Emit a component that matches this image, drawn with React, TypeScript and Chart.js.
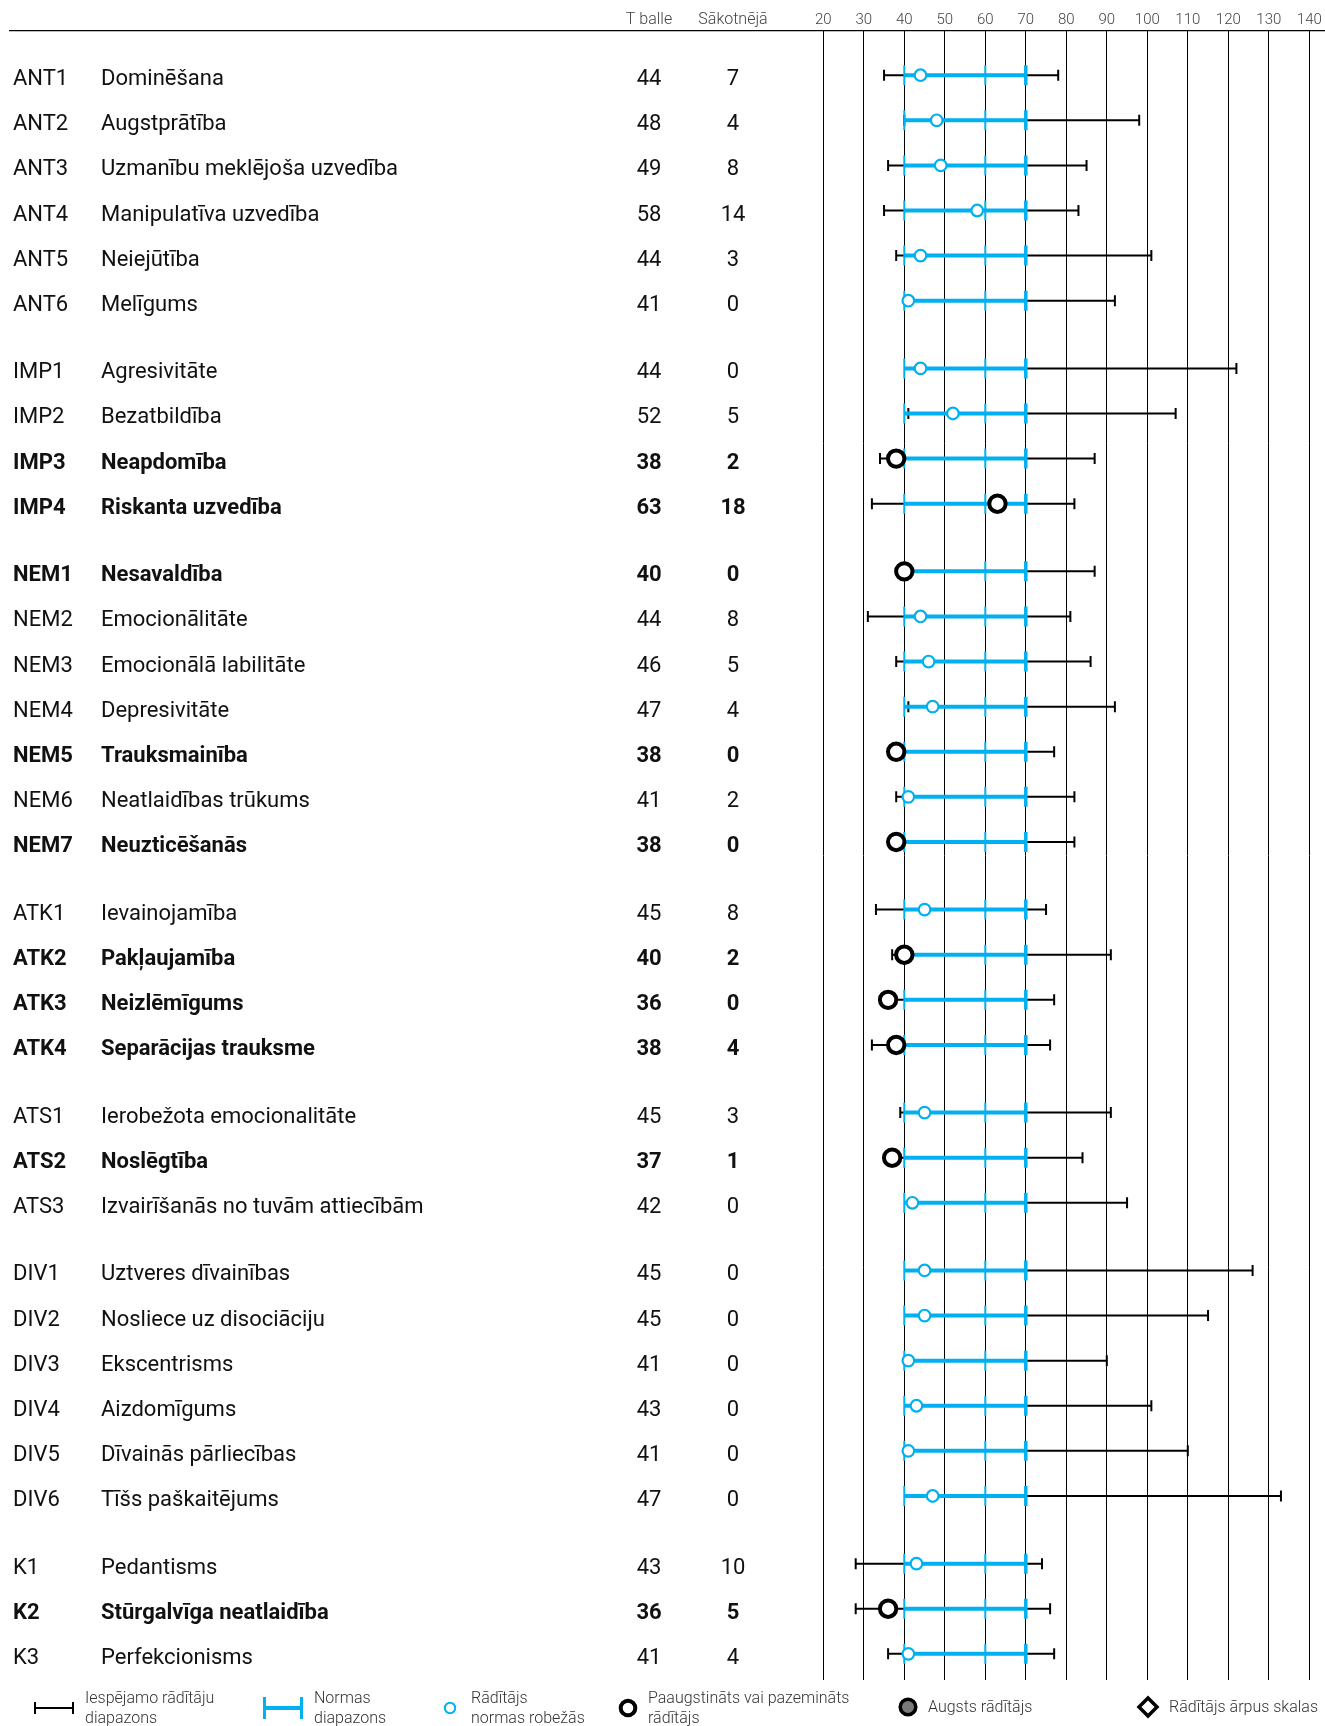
import React, { useEffect, useRef } from "react";
import { Chart, registerables } from "chart.js";

Chart.register(...registerables);

// ---------- data ----------
const codes = ["ANT1","ANT2","ANT3","ANT4","ANT5","ANT6","IMP1","IMP2","IMP3","IMP4","NEM1","NEM2","NEM3","NEM4","NEM5","NEM6","NEM7","ATK1","ATK2","ATK3","ATK4","ATS1","ATS2","ATS3","DIV1","DIV2","DIV3","DIV4","DIV5","DIV6","K1","K2","K3"];
const names = ["Dominēšana","Augstprātība","Uzmanību meklējoša uzvedība","Manipulatīva uzvedība","Neiejūtība","Melīgums","Agresivitāte","Bezatbildība","Neapdomība","Riskanta uzvedība","Nesavaldība","Emocionālitāte","Emocionālā labilitāte","Depresivitāte","Trauksmainība","Neatlaidības trūkums","Neuzticēšanās","Ievainojamība","Pakļaujamība","Neizlēmīgums","Separācijas trauksme","Ierobežota emocionalitāte","Noslēgtība","Izvairīšanās no tuvām attiecībām","Uztveres dīvainības","Nosliece uz disociāciju","Ekscentrisms","Aizdomīgums","Dīvainās pārliecības","Tīšs paškaitējums","Pedantisms","Stūrgalvīga neatlaidība","Perfekcionisms"];
const tScores = [44,48,49,58,44,41, 44,52,38,63, 40,44,46,47,38,41,38, 45,40,36,38, 45,37,42, 45,45,41,43,41,47, 43,36,41];
const rawScores = [7,4,8,14,3,0, 0,5,2,18, 0,8,5,4,0,2,0, 8,2,0,4, 3,1,0, 0,0,0,0,0,0, 10,5,4];
const rangeMin = [35,40,36,35,38,41, 44,41,34,32, 40,31,38,41,38,38,38, 33,37,36,32, 39,36,42, 45,45,41,43,41,47, 28,28,36];
const rangeMax = [78,98,85,83,101,92, 122,107,87,82, 87,81,86,92,77,82,82, 75,91,77,76, 91,84,95, 126,115,90,101,110,133, 74,76,77];
const flagged = [0,0,0,0,0,0, 0,0,1,1, 1,0,0,0,1,0,1, 0,1,1,1, 0,1,0, 0,0,0,0,0,0, 0,1,0];
const groupSizes = [6,4,7,4,3,6,3];
const normLow = 40;
const normMid = 60;
const normHigh = 70;
const xMin = 20;
const xMax = 140;
const xStep = 10;
const headerT = "T balle";
const headerRaw = "Sākotnējā";
const legendItems = [
  ["Iespējamo rādītāju", "diapazons"],
  ["Normas", "diapazons"],
  ["Rādītājs", "normas robežās"],
  ["Paaugstināts vai pazemināts", "rādītājs"],
  ["Augsts rādītājs"],
  ["Rādītājs ārpus skalas"],
];

// ---------- style ----------
const BLUE = "#00B0F0";
const GROUP_GAP = 0.5;
const W = 1325;
const H = 1726;

export default function App() {
  const ref = useRef<HTMLCanvasElement>(null);

  useEffect(() => {
    document.body.style.margin = "0";
    const canvas = ref.current;
    if (!canvas) return;

    const positions: number[] = [];
    let p = 0;
    groupSizes.forEach((n, g) => {
      if (g > 0) p += GROUP_GAP;
      for (let i = 0; i < n; i++) {
        positions.push(p);
        p += 1;
      }
    });

    const rangeData: any[] = [];
    const normData: any[] = [];
    const normalPts: any[] = [];
    const flagPts: any[] = [];
    positions.forEach((y, i) => {
      rangeData.push({ x: rangeMin[i], y }, { x: rangeMax[i], y }, { x: NaN, y: NaN });
      normData.push({ x: normLow, y }, { x: normMid, y }, { x: normHigh, y }, { x: NaN, y: NaN });
      if (flagged[i]) flagPts.push({ x: tScores[i], y });
      else normalPts.push({ x: tScores[i], y });
    });

    const textPlugin = {
      id: "textPlugin",
      afterDraw(chart: any) {
        const ctx = chart.ctx as CanvasRenderingContext2D;
        const ys = chart.scales.y;
        ctx.save();
        // header line
        ctx.strokeStyle = "#000";
        ctx.lineWidth = 1.2;
        ctx.beginPath();
        ctx.moveTo(9, 30.6);
        ctx.lineTo(W, 30.6);
        ctx.stroke();

        // headers
        ctx.fillStyle = "#444";
        ctx.font = "300 16px Roboto";
        ctx.textAlign = "center";
        ctx.textBaseline = "middle";
        ctx.fillText(headerT, 649, 20);
        ctx.fillText(headerRaw, 733, 20);

        // rows
        positions.forEach((pos, i) => {
          const y = ys.getPixelForValue(pos) + 4.5;
          const bold = !!flagged[i];
          ctx.font = (bold ? "bold " : "") + "22px Roboto";
          ctx.fillStyle = "#111";
          ctx.textAlign = "left";
          ctx.fillText(codes[i], 13, y);
          ctx.fillText(names[i], 101, y);
          ctx.textAlign = "center";
          ctx.fillText(String(tScores[i]), 649, y);
          ctx.fillText(String(rawScores[i]), 733, y);
        });

        // legend
        const ly = 1708;
        const line = (x1: number, y1: number, x2: number, y2: number) => {
          ctx.beginPath();
          ctx.moveTo(x1, y1);
          ctx.lineTo(x2, y2);
          ctx.stroke();
        };
        ctx.strokeStyle = "#000";
        ctx.lineWidth = 2;
        line(34, ly, 74, ly);
        line(35, ly - 6, 35, ly + 6);
        line(73, ly - 6, 73, ly + 6);

        ctx.strokeStyle = BLUE;
        ctx.lineWidth = 4;
        line(263, ly, 303, ly);
        ctx.lineWidth = 3;
        line(264.5, ly - 11, 264.5, ly + 11);
        line(301.5, ly - 11, 301.5, ly + 11);

        ctx.strokeStyle = BLUE;
        ctx.lineWidth = 2;
        ctx.fillStyle = "#fff";
        ctx.beginPath();
        ctx.arc(450, ly, 5.2, 0, Math.PI * 2);
        ctx.fill();
        ctx.stroke();

        ctx.strokeStyle = "#000";
        ctx.lineWidth = 4;
        ctx.beginPath();
        ctx.arc(628, ly, 7.3, 0, Math.PI * 2);
        ctx.fill();
        ctx.stroke();

        ctx.fillStyle = "#7a7a7a";
        ctx.lineWidth = 3.5;
        ctx.beginPath();
        ctx.arc(908, ly - 1, 7.8, 0, Math.PI * 2);
        ctx.fill();
        ctx.stroke();

        ctx.fillStyle = "#fff";
        ctx.beginPath();
        ctx.moveTo(1148, ly - 1 - 9);
        ctx.lineTo(1157, ly - 1);
        ctx.lineTo(1148, ly - 1 + 9);
        ctx.lineTo(1139, ly - 1);
        ctx.closePath();
        ctx.fill();
        ctx.stroke();

        ctx.fillStyle = "#333";
        ctx.font = "300 16px Roboto";
        ctx.textAlign = "left";
        ctx.textBaseline = "middle";
        const lx = [85, 314, 471, 648, 928, 1169];
        legendItems.forEach((lines, k) => {
          if (lines.length === 2) {
            ctx.fillText(lines[0], lx[k], 1699);
            ctx.fillText(lines[1], lx[k], 1719);
          } else {
            ctx.fillText(lines[0], lx[k], ly);
          }
        });
        ctx.restore();
      },
    };

    const chart = new Chart(canvas, {
      type: "line",
      data: {
        datasets: [
          {
            type: "scatter",
            data: flagPts,
            showLine: false,
            pointStyle: "circle",
            pointRadius: 8.2,
            pointHoverRadius: 8.2,
            pointBorderWidth: 4,
            pointBorderColor: "#000",
            pointBackgroundColor: "#fff",
            order: 0,
          } as any,
          {
            type: "scatter",
            data: normalPts,
            showLine: false,
            pointStyle: "circle",
            pointRadius: 5.8,
            pointHoverRadius: 5.8,
            pointBorderWidth: 2.2,
            pointBorderColor: BLUE,
            pointBackgroundColor: "#fff",
            order: 0,
          } as any,
          {
            type: "line",
            data: normData,
            borderColor: BLUE,
            borderWidth: 4,
            fill: false,
            tension: 0,
            spanGaps: false,
            pointStyle: "line",
            pointRotation: 90,
            pointRadius: 10,
            pointHoverRadius: 10,
            pointBorderColor: BLUE,
            pointBorderWidth: (c: any) => (c.raw && c.raw.x === normHigh ? 3.5 : 2),
            order: 1,
          } as any,
          {
            type: "line",
            data: rangeData,
            borderColor: "#000",
            borderWidth: 2,
            fill: false,
            tension: 0,
            spanGaps: false,
            pointStyle: "line",
            pointRotation: 90,
            pointRadius: 5.5,
            pointHoverRadius: 5.5,
            pointBorderColor: "#000",
            pointBorderWidth: 2,
            order: 2,
          } as any,
        ],
      },
      options: {
        responsive: false,
        animation: false,
        devicePixelRatio: 1,
        events: [],
        layout: { padding: { left: 823.3, right: W - 1309.3, top: 0, bottom: H - 1680 } },
        plugins: { legend: { display: false }, tooltip: { enabled: false } },
        scales: {
          x: {
            type: "linear",
            position: "top",
            min: xMin,
            max: xMax,
            ticks: {
              stepSize: xStep,
              autoSkip: false,
              maxRotation: 0,
              padding: 2,
              color: "#444",
              font: { family: "Roboto", size: 15, weight: "300" as any },
            },
            grid: { color: "#000", lineWidth: 1, drawTicks: false },
            border: { display: false },
            afterFit: (s: any) => {
              s.height = 31;
            },
          },
          y: {
            type: "linear",
            reverse: true,
            min: -0.98,
            max: 35.58,
            display: false,
          },
        },
      } as any,
      plugins: [textPlugin],
    });

    return () => chart.destroy();
  }, []);

  return (
    <div style={{ width: W, height: H, background: "#fff" }}>
      <canvas ref={ref} width={W} height={H} style={{ display: "block", width: W, height: H }} />
    </div>
  );
}
